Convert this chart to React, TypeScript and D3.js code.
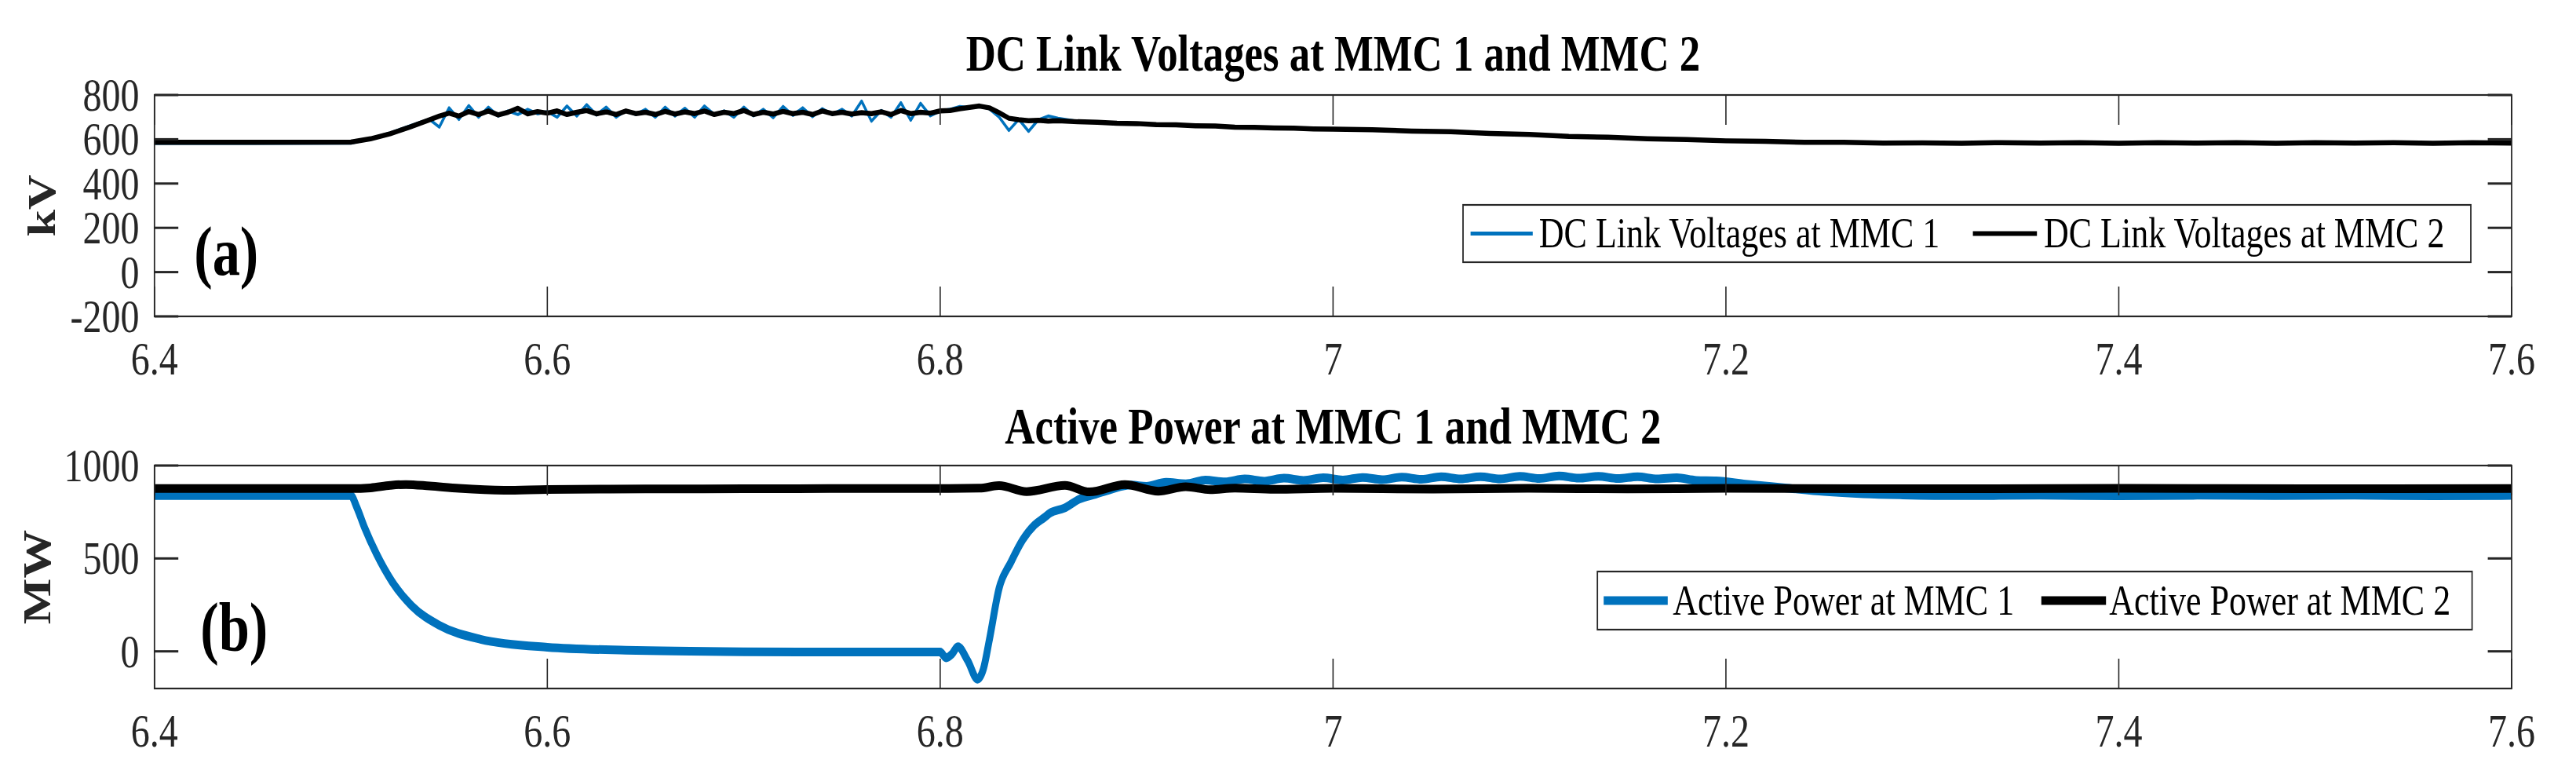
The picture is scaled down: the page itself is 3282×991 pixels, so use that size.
import React from 'react'
import * as d3 from 'd3'

// ---- panel (a): DC link voltages, kV ----
const timeA = [
  6.40, 6.45, 6.50, 6.51, 6.52, 6.53, 6.54,
  6.545, 6.55, 6.555, 6.56, 6.565, 6.57, 6.575, 6.58, 6.585, 6.59, 6.595, 6.60,
  6.605, 6.61, 6.615, 6.62, 6.625, 6.63, 6.635, 6.64, 6.645, 6.65,
  6.655, 6.66, 6.665, 6.67, 6.675, 6.68, 6.685, 6.69, 6.695, 6.70,
  6.705, 6.71, 6.715, 6.72, 6.725, 6.73, 6.735, 6.74, 6.745, 6.75,
  6.755, 6.76, 6.765, 6.77, 6.775, 6.78, 6.785, 6.79, 6.795, 6.80,
  6.805, 6.81, 6.815, 6.82, 6.825, 6.83, 6.835, 6.84, 6.845, 6.85,
  6.855, 6.86,
  6.87, 6.88, 6.89, 6.90, 6.91, 6.92, 6.93, 6.94, 6.95, 6.96, 6.97, 6.98, 6.99, 7.00,
  7.02, 7.04, 7.06, 7.08, 7.10, 7.12, 7.14, 7.16, 7.18, 7.20,
  7.22, 7.24, 7.26, 7.28, 7.30, 7.32, 7.34, 7.36, 7.38, 7.40,
  7.42, 7.44, 7.46, 7.48, 7.50, 7.52, 7.54, 7.56, 7.58, 7.60,
]
const dcLinkMmc1 = [
  582, 582, 583, 603, 628, 660, 690,
  655, 742, 690, 752, 700, 745, 705, 728, 712, 735, 715, 725,
  700, 750, 705, 756, 710, 745, 700, 730, 712, 735,
  700, 745, 705, 740, 700, 750, 712, 728, 700, 745,
  706, 735, 698, 748, 708, 742, 702, 738, 712, 735,
  705, 772, 682, 730, 700, 765, 686, 762, 706, 728,
  735, 748, 742, 752, 738, 700, 640, 690, 636, 688,
  705, 695,
  680, 676, 673, 670, 667, 665, 662, 659, 656, 654, 652, 650, 648, 646,
  642, 638, 633, 627, 621, 614, 608, 603, 598, 594,
  590, 587, 585, 583, 582, 582, 583, 582, 582, 583,
  582, 582, 583, 582, 582, 583, 582, 582, 583, 582,
]
const dcLinkMmc2 = [
  586, 586, 587, 602, 625, 655, 688,
  705, 718, 705, 725, 712, 728, 710, 722, 740, 715, 725, 718,
  728, 712, 722, 730, 715, 724, 712, 728, 716, 722,
  712, 726, 714, 724, 716, 728, 712, 722, 716, 730,
  712, 722, 714, 726, 716, 722, 712, 728, 716, 722,
  714, 720, 716, 724, 712, 730, 716, 722, 718, 728,
  730, 738, 744, 750, 742, 720, 695, 688, 684, 686,
  682, 684,
  679, 677, 672, 671, 666, 665, 661, 660, 655, 654, 651, 650, 647, 646,
  643, 637, 634, 626, 622, 613, 609, 602, 599, 593,
  591, 586, 586, 583, 584, 582, 585, 583, 585, 582,
  585, 583, 585, 582, 585, 583, 585, 582, 585, 583,
]

// ---- panel (b): active power, MW ----
const timeP1 = [
  6.40, 6.50, 6.503, 6.507, 6.513, 6.521, 6.531, 6.545, 6.566, 6.60,
  6.64, 6.70, 6.76, 6.80, 6.803, 6.806, 6.809, 6.814, 6.819, 6.822,
  6.825, 6.830, 6.836, 6.842, 6.848, 6.853, 6.856, 6.863, 6.871, 6.879,
  6.887, 6.897, 6.905, 6.915, 6.925, 6.935, 6.945, 6.955, 6.965, 6.975,
  6.985, 6.995, 7.005, 7.015, 7.025, 7.035, 7.045, 7.055, 7.065, 7.075,
  7.085, 7.095, 7.105, 7.115, 7.125, 7.135, 7.145, 7.155, 7.165, 7.175,
  7.185, 7.195, 7.21, 7.23, 7.25, 7.27, 7.29, 7.32, 7.36, 7.40,
  7.44, 7.48, 7.52, 7.56, 7.60,
]
const activeMmc1 = [
  838, 838, 775, 665, 525, 375, 245, 140, 65, 22,
  6, -2, -4, -4, -35, -15, 25, -50, -150, -95,
  60, 340, 480, 600, 680, 720, 745, 770, 820, 845,
  872, 895, 888, 910, 902, 922, 912, 928, 916, 932,
  920, 934, 922, 936, 924, 938, 926, 940, 928, 940,
  928, 942, 930, 944, 932, 942, 930, 940, 928, 934,
  920, 918, 900, 880, 860, 848, 842, 838, 840, 837,
  840, 838, 840, 837, 839,
]
const timeP2 = [
  6.40, 6.50, 6.51, 6.52, 6.528, 6.54, 6.555, 6.578, 6.60, 6.65,
  6.70, 6.75, 6.80, 6.82, 6.830, 6.844, 6.8635, 6.876, 6.894, 6.911,
  6.925, 6.9375, 6.95, 6.97, 7.00, 7.05, 7.10, 7.15, 7.20, 7.30,
  7.40, 7.50, 7.60,
]
const activeMmc2 = [
  876, 876, 880, 893, 898, 890, 877, 867, 871, 874,
  875, 876, 876, 878, 892, 860, 893, 858, 898, 862,
  886, 870, 878, 872, 877, 873, 877, 874, 877, 875,
  877, 875, 876,
]

const xTicks = [6.4, 6.6, 6.8, 7.0, 7.2, 7.4, 7.6]
const yTicksA = [-200, 0, 200, 400, 600, 800]
const yTicksB = [0, 500, 1000]

// the figure is squeezed horizontally, draw in a wider space and scale it
const SX = 0.8
const FONT = '"Liberation Serif", "Times New Roman", Times, serif'
const AXIS = '#262626'
const BLUE = '#0072BD'

const X0 = 246
const X1 = 4000
const x = d3.scaleLinear().domain([6.4, 7.6]).range([X0, X1])

function Panel(p) {
  const y = d3.scaleLinear().domain(p.yDomain).range([p.bottom, p.top])
  const clipId = 'clip-' + p.id
  const tl = 38
  return (
    <g>
      <defs>
        <clipPath id={clipId}>
          <rect x={X0} y={p.top} width={X1 - X0} height={p.bottom - p.top} />
        </clipPath>
      </defs>

      {/* title */}
      <text x={(X0 + X1) / 2} y={p.titleY} textAnchor="middle" fontSize={66} fontWeight="bold" fill="#000">
        {p.title}
      </text>

      {/* lines */}
      <g clipPath={`url(#${clipId})`}>
        {p.series.map((s, k) => {
          const line = d3.line<number>()
            .x((d, i) => x(s.t[i]))
            .y(d => y(d))
            .curve(s.curve)
          return (
            <path key={k} d={line(s.v) || ''} fill="none" stroke={s.color}
              strokeWidth={s.width} strokeLinejoin="round" strokeLinecap="butt" />
          )
        })}
      </g>

      {/* box + ticks */}
      <rect x={X0} y={p.top} width={X1 - X0} height={p.bottom - p.top} fill="none" stroke={AXIS} strokeWidth={2.2} />
      {xTicks.map(t => (
        <g key={'xt' + t} stroke={AXIS} strokeWidth={2}>
          <line x1={x(t)} x2={x(t)} y1={p.bottom} y2={p.bottom - tl} />
          <line x1={x(t)} x2={x(t)} y1={p.top} y2={p.top + tl} />
        </g>
      ))}
      {p.yTicks.map(v => (
        <g key={'yt' + v} stroke={AXIS} strokeWidth={3}>
          <line x1={X0} x2={X0 + tl} y1={y(v)} y2={y(v)} />
          <line x1={X1} x2={X1 - tl} y1={y(v)} y2={y(v)} />
        </g>
      ))}

      {/* tick labels */}
      {xTicks.map(t => (
        <text key={'xl' + t} x={x(t)} y={p.bottom + 74} textAnchor="middle" fontSize={60} fill={AXIS}>
          {String(t)}
        </text>
      ))}
      {p.yTicks.map(v => (
        <text key={'yl' + v} x={X0 - 24} y={y(v) + 20} textAnchor="end" fontSize={60} fill={AXIS}>
          {String(v)}
        </text>
      ))}

      {/* y label */}
      <text transform={`translate(${p.ylabelX},${(p.top + p.bottom) / 2}) rotate(-90)`}
        textAnchor="middle" fontSize={62} fontWeight="bold" fill={AXIS}>
        {p.ylabel}
      </text>

      {/* panel tag */}
      <text x={p.tagX} y={p.tagY} fontSize={88} fontWeight="bold" fill="#000">{p.tag}</text>

      {/* legend */}
      <rect x={p.legend.x0} y={p.legend.y0} width={p.legend.x1 - p.legend.x0} height={p.legend.y1 - p.legend.y0}
        fill="#fff" stroke={AXIS} strokeWidth={2.2} />
      {p.legend.items.map((it, k) => {
        const cy = (p.legend.y0 + p.legend.y1) / 2
        return (
          <g key={k}>
            <line x1={it.lx0} x2={it.lx1} y1={cy} y2={cy} stroke={it.color} strokeWidth={it.width} />
            <text x={it.tx} y={cy + 18} fontSize={55} fill="#000">{it.label}</text>
          </g>
        )
      })}
    </g>
  )
}

export default function App() {
  return (
    <svg width={3282} height={991} style={{ position: 'absolute', left: 0, top: 0 }}>
      <rect width={3282} height={991} fill="#fff" />
      <g transform={`scale(${SX},1)`} fontFamily={FONT}>
        <Panel
          id="a"
          top={121}
          bottom={403}
          yDomain={[-200, 800]}
          yTicks={yTicksA}
          title="DC Link Voltages at MMC 1 and MMC 2"
          titleY={90}
          ylabel="kV"
          ylabelX={88}
          tag="(a)"
          tagX={309}
          tagY={350}
          series={[
            { t: timeA, v: dcLinkMmc1, color: BLUE, width: 4, curve: d3.curveLinear },
            { t: timeA, v: dcLinkMmc2, color: '#000', width: 6.5, curve: d3.curveLinear },
          ]}
          legend={{
            x0: 2330, x1: 3935, y0: 261, y1: 334,
            items: [
              { label: 'DC Link Voltages at MMC 1', color: BLUE, width: 5, lx0: 2342, lx1: 2441, tx: 2451 },
              { label: 'DC Link Voltages at MMC 2', color: '#000', width: 6, lx0: 3142, lx1: 3244, tx: 3255 },
            ],
          }}
        />
        <Panel
          id="b"
          top={593}
          bottom={877}
          yDomain={[-200, 1000]}
          yTicks={yTicksB}
          title="Active Power at MMC 1 and MMC 2"
          titleY={565}
          ylabel="MW"
          ylabelX={80}
          tag="(b)"
          tagX={319}
          tagY={829}
          series={[
            { t: timeP1, v: activeMmc1, color: BLUE, width: 11, curve: d3.curveMonotoneX },
            { t: timeP2, v: activeMmc2, color: '#000', width: 11, curve: d3.curveMonotoneX },
          ]}
          legend={{
            x0: 2544, x1: 3937, y0: 728, y1: 802,
            items: [
              { label: 'Active Power at MMC 1', color: BLUE, width: 11, lx0: 2554, lx1: 2656, tx: 2664 },
              { label: 'Active Power at MMC 2', color: '#000', width: 11, lx0: 3251, lx1: 3354, tx: 3359 },
            ],
          }}
        />
      </g>
    </svg>
  )
}
